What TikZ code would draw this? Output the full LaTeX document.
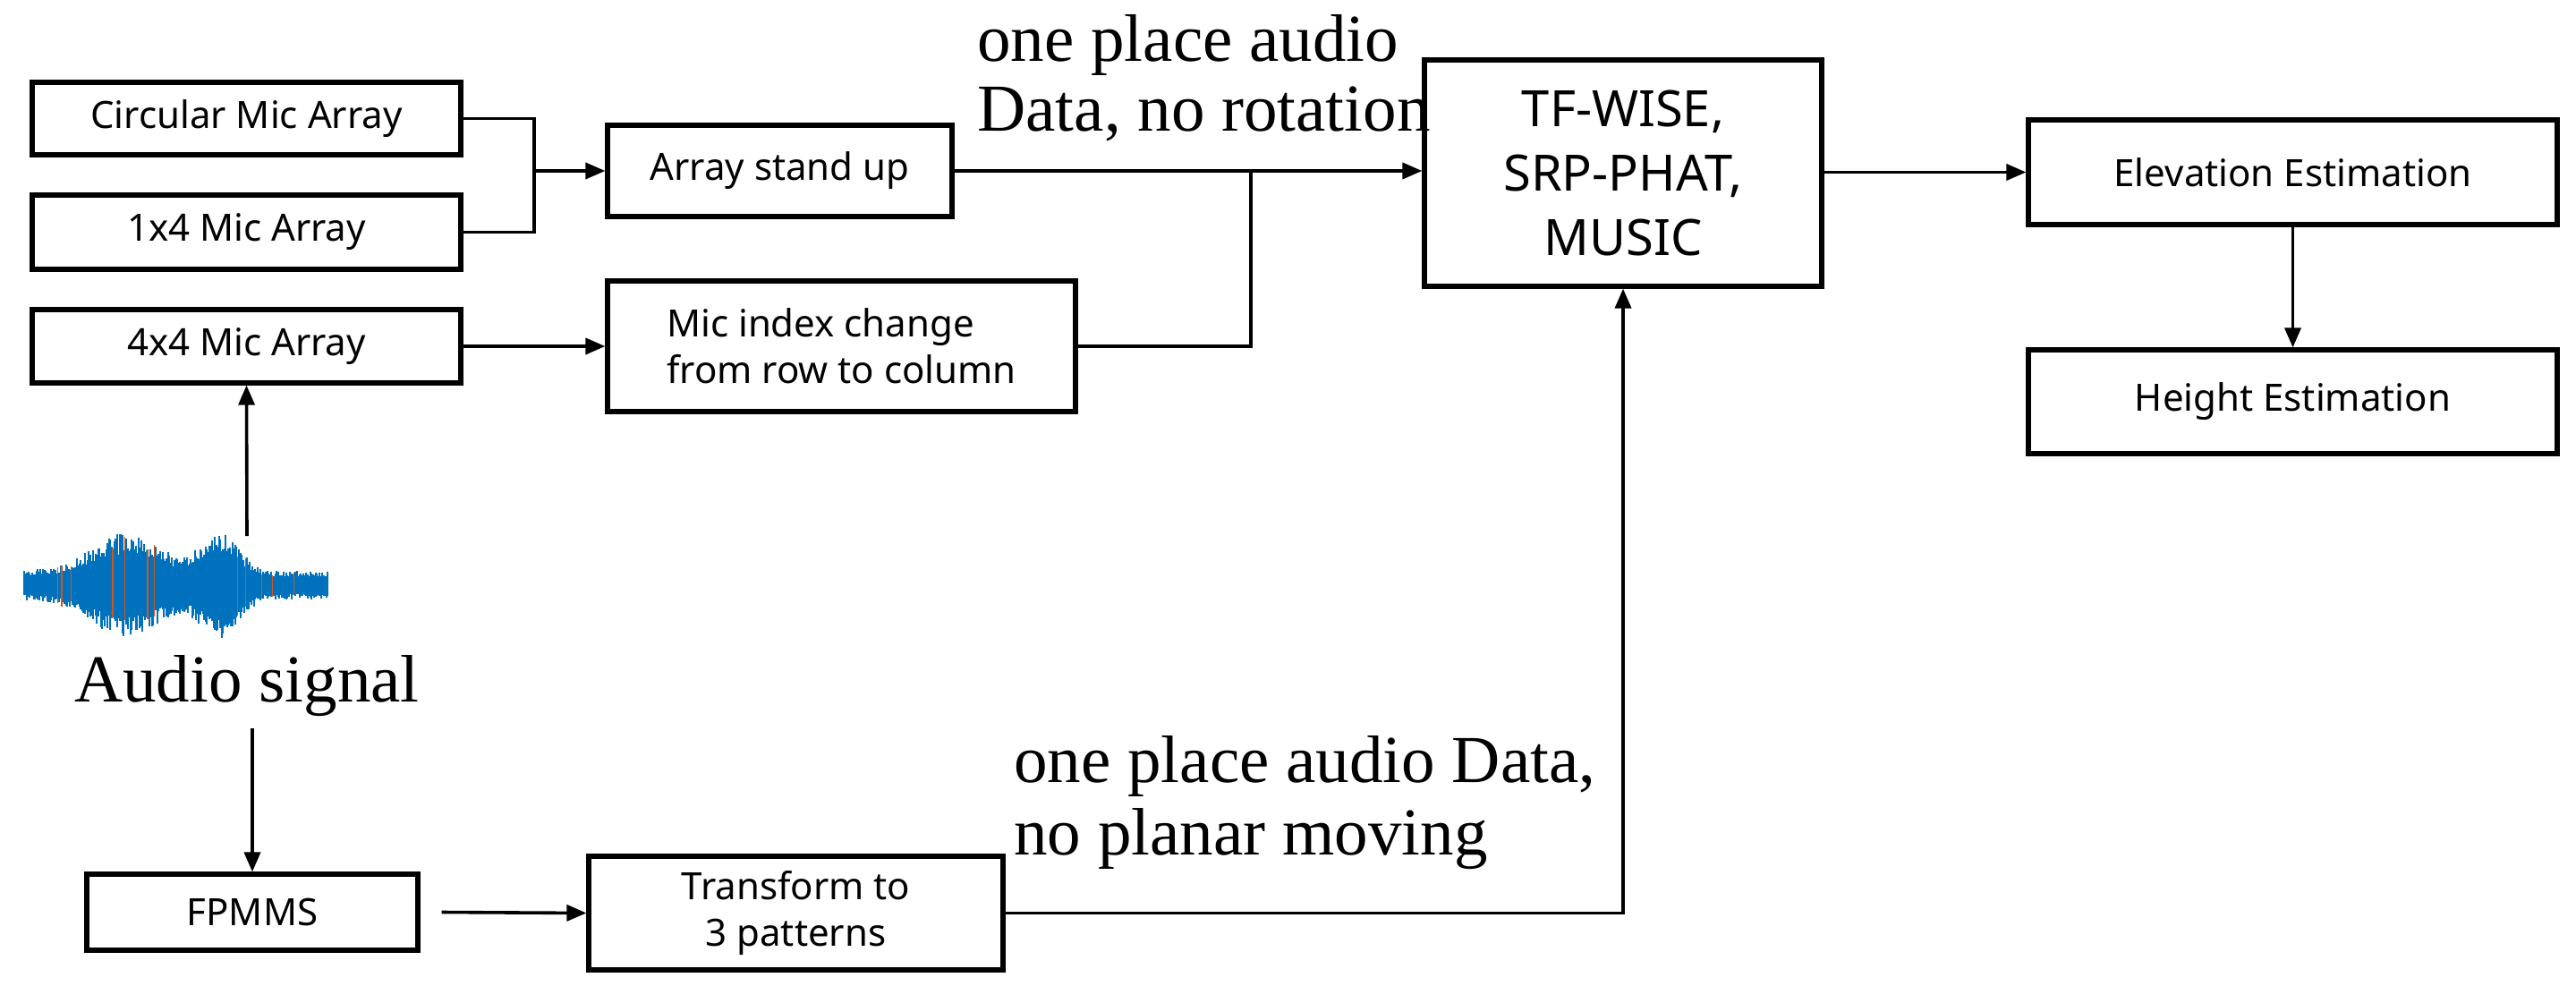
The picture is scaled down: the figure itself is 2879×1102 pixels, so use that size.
\documentclass[tikz,border=0pt]{standalone}
\usepackage{fontspec}
\setmainfont{Liberation Serif}
\newfontfamily\boxfont{Noto Sans}
\usetikzlibrary{arrows.meta}
\definecolor{wblue}{RGB}{0,114,189}
\definecolor{wred}{RGB}{217,83,25}
\begin{document}
\begin{tikzpicture}[x=0.5pt,y=-0.5pt,
  box/.style={draw,line width=2.6pt,rectangle,inner sep=0pt,font=\boxfont\fontsize{21}{26}\selectfont,align=center},
  conn/.style={line width=1.8pt},
  arr/.style={conn,-{Triangle[length=11pt,width=9pt]}},
  lab/.style={font=\fontsize{37.5}{39}\selectfont,inner sep=0pt,anchor=base west}]
\useasboundingbox (0,0) rectangle (2879,1102);
\node[box,minimum width=479*0.5pt,minimum height=81*0.5pt] (circ) at (275.5,132.5) {Circular Mic Array};
\node[box,minimum width=479*0.5pt,minimum height=83*0.5pt] (one4) at (275.5,259.5) {1x4 Mic Array};
\node[box,minimum width=479*0.5pt,minimum height=82*0.5pt] (four4) at (275.5,387) {4x4 Mic Array};
\node[box,minimum width=385*0.5pt,minimum height=102*0.5pt] (stand) at (871.5,191) {Array stand up};
\node[box,minimum width=523*0.5pt,minimum height=146*0.5pt,align=left] (idx) at (940.5,387) {Mic index change\\from row to column};
\node[box,minimum width=444*0.5pt,minimum height=253*0.5pt,font=\boxfont\fontsize{28}{36}\selectfont] (tf) at (1814,193.5) {TF-WISE,\\SRP-PHAT,\\MUSIC};
\node[box,minimum width=591*0.5pt,minimum height=117*0.5pt] (elev) at (2562.5,192.5) {Elevation Estimation};
\node[box,minimum width=591*0.5pt,minimum height=116*0.5pt] (height) at (2562.5,449) {Height Estimation};
\node[box,minimum width=370*0.5pt,minimum height=85*0.5pt] (fpmms) at (282,1019.5) {FPMMS};
\node[box,minimum width=463*0.5pt,minimum height=127*0.5pt] (trans) at (889.5,1020.5) {Transform to\\3 patterns};
% waveform
\pgfmathsetseed{7}
\foreach \i in {27,28.5,...,367}{
  \pgfmathsetmacro{\e}{16+42*exp(-((\i-140)/55)^2)+44*exp(-((\i-245)/30)^2)}
  \pgfmathsetmacro{\a}{\e*(0.6+0.4*rnd)}
  \pgfmathsetmacro{\b}{\e*(0.6+0.4*rnd)}
  \pgfmathparse{rnd<0.06?1:0}
  \ifnum\pgfmathresult=1
    \draw[wred,line width=0.8pt] (\i,654-\a) -- (\i,654+\b);
  \else
    \draw[wblue,line width=1pt] (\i,654-\a) -- (\i,654+\b);
  \fi
}
\coordinate (wtop) at (276,599);
\node[font=\fontsize{37.5}{39}\selectfont,inner sep=0pt,anchor=base] (aud) at (276,784) {Audio signal};
\coordinate (audbot) at (282,814);
% labels
\node[lab] (l1) at (1092,69) {one place audio};
\node[lab] (l2) at (1092,147) {Data, no rotation};
\node[lab] (l3) at (1133,874) {one place audio Data,};
\node[lab] (l4) at (1133,955) {no planar moving};
% connectors
\coordinate (j1) at (597,191);
\coordinate (j2) at (1398,191);
\draw[conn] (circ.east) -| (j1);
\draw[conn] (one4.east) -| (j1);
\draw[arr] (j1) -- (stand.west);
\draw[arr] (stand.east) -- (stand.east -| tf.west);
\draw[conn] (idx.east) -| (j2);
\draw[arr] (four4.east) -- (idx.west);
\draw[arr] (wtop) -- (four4.south);
\draw[arr] (audbot) -- (fpmms.north);
\draw[arr] ([xshift=12pt]fpmms.east) -- (trans.west);
\draw[arr] (trans.east) -| (tf.south);
\draw[arr] (tf.east |- elev.west) -- (elev.west);
\draw[arr] (elev.south) -- (height.north);
\end{tikzpicture}
\end{document}
